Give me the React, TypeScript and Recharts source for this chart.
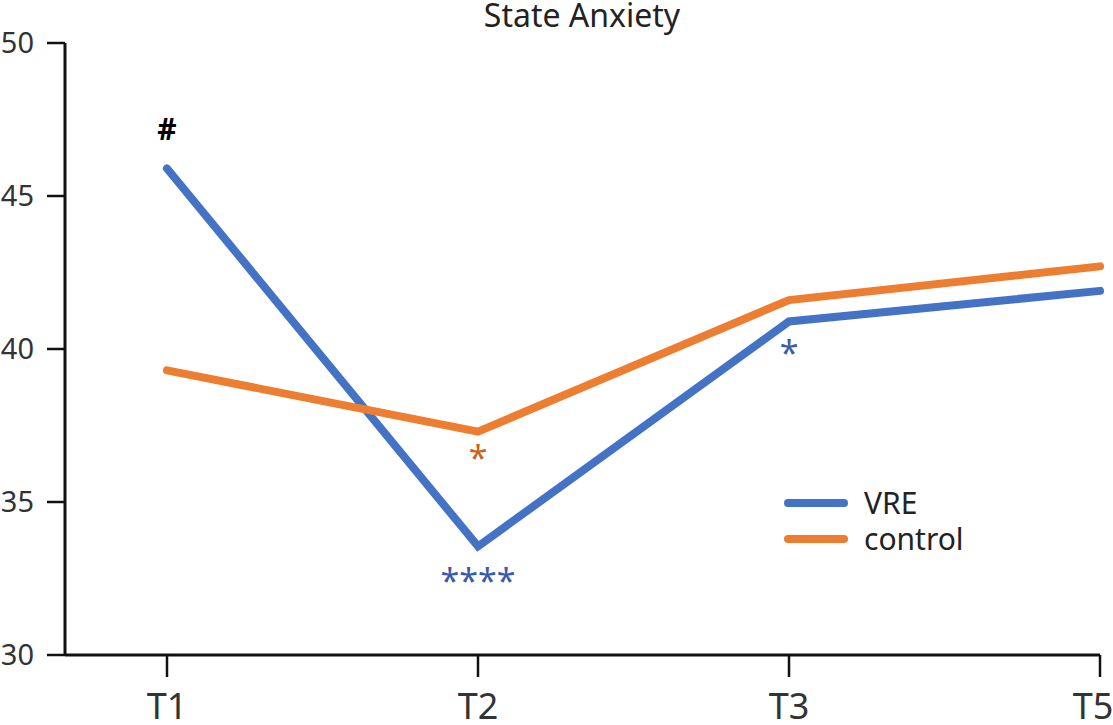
import { LineChart, Line, XAxis, YAxis, Legend, LabelList } from "recharts";

const timepoints = ["T1", "T2", "T3", "T5"];
const vre = [45.9, 33.55, 40.9, 41.9];
const control = [39.3, 37.3, 41.6, 42.7];
// significance marks shown next to each point
const vreMarks = ["#", "****", "*", ""];
const controlMarks = ["", "*", "", ""];
const yTicks = [30, 35, 40, 45, 50];

const data = timepoints.map((t, i) => ({
  time: t,
  vre: vre[i],
  control: control[i],
  vreMark: vreMarks[i],
  controlMark: controlMarks[i],
}));

const BLUE = "#4472C4";
const ORANGE = "#ED7D31";
const FONT = "'Noto Sans', 'Open Sans', sans-serif";

const markRenderer = (color: string, starDy: number) => (props: any) => {
  const { x, y, value } = props;
  if (!value) return null;
  const bold = value === "#";
  const dy = bold ? -28 : value === "****" ? 47 : starDy;
  return (
    <text
      x={x}
      y={y + dy}
      textAnchor="middle"
      fill={bold ? "#000" : color}
      fontSize={bold ? 30 : 34}
      fontWeight={bold ? 700 : 400}
      fontFamily={FONT}
    >
      {value}
    </text>
  );
};

const LegendBox = ({ payload }: any) => (
  <div style={{ fontFamily: FONT, fontSize: 30, color: "#222" }}>
    {(payload ?? []).map((p: any) => (
      <div key={p.value} style={{ display: "flex", alignItems: "center", height: 36 }}>
        <svg width={84} height={12}>
          <line x1={8} y1={6} x2={64} y2={6} stroke={p.color} strokeWidth={8} strokeLinecap="round" />
        </svg>
        <span style={{ lineHeight: "36px" }}>{p.value}</span>
      </div>
    ))}
  </div>
);

export default function App() {
  return (
    <div style={{ position: "absolute", left: 0, top: 0, width: 1113, height: 725, background: "#fff", overflow: "hidden" }}>
      <LineChart width={1113} height={725} data={data} margin={{ top: 43, right: 13, bottom: 0, left: 0 }}>
        <XAxis
          dataKey="time"
          height={70}
          padding={{ left: 102, right: 0 }}
          axisLine={{ stroke: "#111", strokeWidth: 3 }}
          tickLine={{ stroke: "#111", strokeWidth: 2.5 }}
          tickSize={22}
          tickMargin={16}
          tick={{ fill: "#333", fontSize: 36, fontFamily: FONT }}
        />
        <YAxis
          type="number"
          domain={[30, 50]}
          ticks={yTicks}
          width={65}
          axisLine={{ stroke: "#111", strokeWidth: 3 }}
          tickLine={{ stroke: "#111", strokeWidth: 2.5 }}
          tickSize={18}
          tickMargin={13}
          tick={{ fill: "#333", fontSize: 29, fontFamily: FONT }}
        />
        <Legend
          layout="vertical"
          content={<LegendBox />}
          wrapperStyle={{ left: 780, top: 485, width: 260, height: 0, overflow: "visible" }}
        />
        <Line
          dataKey="vre"
          name="VRE"
          stroke={BLUE}
          strokeWidth={8}
          strokeLinecap="round"
          strokeLinejoin="miter"
          dot={false}
          activeDot={false}
          isAnimationActive={false}
        >
          <LabelList dataKey="vreMark" content={markRenderer("#3A5BAA", 44)} />
        </Line>
        <Line
          dataKey="control"
          name="control"
          stroke={ORANGE}
          strokeWidth={8}
          strokeLinecap="round"
          strokeLinejoin="miter"
          dot={false}
          activeDot={false}
          isAnimationActive={false}
        >
          <LabelList dataKey="controlMark" content={markRenderer("#C8641E", 38)} />
        </Line>
      </LineChart>
      <div
        style={{
          position: "absolute",
          left: 382,
          width: 400,
          top: -7,
          textAlign: "center",
          fontFamily: FONT,
          fontSize: 32,
          color: "#222",
        }}
      >
        State Anxiety
      </div>
    </div>
  );
}
